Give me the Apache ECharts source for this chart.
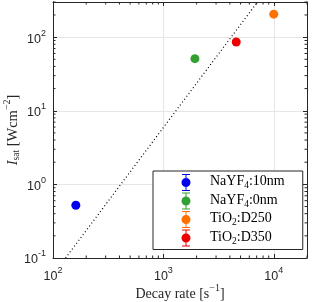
<!DOCTYPE html>
<html>
<head>
<meta charset="utf-8">
<script src="https://cdn.jsdelivr.net/npm/echarts@6/dist/echarts.min.js"></script>
<style>html,body{margin:0;padding:0;background:#fff}#c{width:312px;height:302px}</style>
</head>
<body>
<div id="c"></div>
<script>
// ---- data ----
const seriesNames = ['NaYF4:10nm', 'NaYF4:0nm', 'TiO2:D250', 'TiO2:D350'];
const decayRate = [161, 1930, 10000, 4570];      // s^-1
const Isat = [0.52, 51, 205, 86];                 // W cm^-2
const fitX = [130, 7000];
const fitY = [0.1, 290];
const xMinor = [200,300,400,500,600,700,800,900,2000,3000,4000,5000,6000,7000,8000,9000,20000];
const yMinor = [0.2,0.3,0.4,0.5,0.6,0.7,0.8,0.9,2,3,4,5,6,7,8,9,20,30,40,50,60,70,80,90,200,300];
const xRange = [100, 20000];
const yRange = [0.1, 300];

const colors = ['#0000ee', '#33a033', '#ff7000', '#ee0000'];
const legendRich = {
  'NaYF4:10nm': '{n|NaYF}{sb|4}{n|:10nm}',
  'NaYF4:0nm': '{n|NaYF}{sb|4}{n|:0nm}',
  'TiO2:D250': '{n|TiO}{sb|2}{n|:D250}',
  'TiO2:D350': '{n|TiO}{sb|2}{n|:D350}'
};

const axisColor = '#262626';
function fmt(v) {
  const l = Math.log10(v), e = Math.round(l);
  if (Math.abs(l - e) > 1e-6) return '';
  return '{b|10}{s|' + e + '}';
}
const tickRich = {
  b: {fontSize: 12.5, fontFamily: 'Liberation Sans', color: axisColor, padding: [4, 0, 0, 0], verticalAlign: 'bottom'},
  s: {fontSize: 9, fontFamily: 'Liberation Sans', color: axisColor, verticalAlign: 'top'}
};
// error-bar + marker legend glyph; corner points only set the glyph's box
const errIcon = 'path://M0,0L0,0Z M52,17L52,17Z ' +
  'M29,0H37V1H33.5V4H32.5V1H29Z M33,4A4.5,4.5,0,1,1,32.99,4Z M32.5,13H33.5V16H37V17H29V16H32.5Z';

const chart = echarts.init(document.getElementById('c'));
const series = seriesNames.map((n, i) => ({
  name: n, type: 'scatter', xAxisIndex: 0, yAxisIndex: 0,
  data: [[decayRate[i], Isat[i]]], symbol: 'circle', symbolSize: 9,
  itemStyle: {color: colors[i], opacity: 1}, z: 5
}));
series.push({
  type: 'line', data: fitX.map((x, i) => [x, fitY[i]]), symbol: 'none',
  lineStyle: {color: '#000', width: 1.2, type: [1, 2.6]}, z: 3, silent: true
});
series.push({
  type: 'custom', silent: true, z: 4,
  data: xMinor.map(v => [v]),
  renderItem: function (params, api) {
    const b = api.coord([api.value(0), yRange[0]]);
    const t = api.coord([api.value(0), yRange[1]]);
    return {type: 'group', children: [
      {type: 'line', shape: {x1: b[0], y1: b[1], x2: b[0], y2: b[1] - 2.5}, style: {stroke: axisColor, lineWidth: 1}},
      {type: 'line', shape: {x1: t[0], y1: t[1], x2: t[0], y2: t[1] + 2.5}, style: {stroke: axisColor, lineWidth: 1}}
    ]};
  }
});
series.push({
  type: 'custom', silent: true, z: 4,
  data: yMinor.map(v => [xRange[0], v]),
  renderItem: function (params, api) {
    const l = api.coord([xRange[0], api.value(1)]);
    const r = api.coord([xRange[1], api.value(1)]);
    return {type: 'group', children: [
      {type: 'line', shape: {x1: l[0], y1: l[1], x2: l[0] + 2.5, y2: l[1]}, style: {stroke: axisColor, lineWidth: 1}},
      {type: 'line', shape: {x1: r[0], y1: r[1], x2: r[0] - 2.5, y2: r[1]}, style: {stroke: axisColor, lineWidth: 1}}
    ]};
  }
});

const baseX = {
  type: 'log', logBase: 10, min: xRange[0], max: xRange[1],
  axisLine: {show: true, onZero: false, lineStyle: {color: axisColor, width: 1}},
  axisTick: {show: true, inside: true, length: 4, lineStyle: {color: axisColor}},
  minorTick: {show: false}
};
const baseY = {
  type: 'log', logBase: 10, min: yRange[0], max: yRange[1],
  axisLine: {show: true, onZero: false, lineStyle: {color: axisColor, width: 1}},
  axisTick: {show: true, inside: true, length: 4, lineStyle: {color: axisColor}},
  minorTick: {show: false}
};

chart.setOption({
  animation: false,
  backgroundColor: '#fff',
  grid: {left: 53, right: 5, top: 2, bottom: 44, containLabel: false, outerBoundsMode: 'none'},
  xAxis: [
    Object.assign({}, baseX, {
      position: 'bottom',
      splitLine: {show: true, lineStyle: {color: '#e6e6e6', width: 1}},
      axisLabel: {formatter: fmt, rich: tickRich, margin: 8, showMinLabel: true, showMaxLabel: true, hideOverlap: false},
      name: '{n|Decay rate [s}{s|−1}{n|]}', nameLocation: 'middle', nameGap: 25, nameMoveOverlap: false,
      nameTextStyle: {rich: {
        n: {fontSize: 14, fontFamily: 'Liberation Serif', color: axisColor, padding: [4, 0, 0, 0], verticalAlign: 'bottom'},
        s: {fontSize: 10, fontFamily: 'Liberation Serif', color: axisColor, verticalAlign: 'top'}
      }}
    }),
    Object.assign({}, baseX, {position: 'top', splitLine: {show: false}, axisLabel: {show: false}})
  ],
  yAxis: [
    Object.assign({}, baseY, {
      position: 'left',
      splitLine: {show: true, lineStyle: {color: '#e6e6e6', width: 1}},
      axisLabel: {formatter: fmt, rich: tickRich, margin: 7, hideOverlap: false},
      name: '{i|I}{sb|sat}{n| [Wcm}{s|−2}{n|]}', nameLocation: 'middle', nameGap: 32, nameRotate: 90, nameMoveOverlap: false,
      nameTextStyle: {rich: {
        i: {fontSize: 14.5, fontFamily: 'Liberation Serif', fontStyle: 'italic', color: axisColor, padding: [4, 0, 0, 0], verticalAlign: 'bottom'},
        n: {fontSize: 14.5, fontFamily: 'Liberation Serif', color: axisColor, padding: [4, 0, 0, 0], verticalAlign: 'bottom'},
        sb: {fontSize: 9.5, fontFamily: 'Liberation Serif', color: axisColor, verticalAlign: 'bottom'},
        s: {fontSize: 10, fontFamily: 'Liberation Serif', color: axisColor, verticalAlign: 'top'}
      }}
    }),
    Object.assign({}, baseY, {position: 'right', splitLine: {show: false}, axisLabel: {show: false}})
  ],
  legend: {
    data: seriesNames, orient: 'vertical', left: 153, top: 171,
    padding: [3, 18, 3, 0], itemGap: 1.5, itemWidth: 52, itemHeight: 17,
    icon: errIcon, symbolKeepAspect: false,
    backgroundColor: '#fff', borderColor: axisColor, borderWidth: 1, borderRadius: 0,
    selectedMode: false,
    formatter: n => legendRich[n],
    textStyle: {rich: {
      n: {fontSize: 14, fontFamily: 'Liberation Serif', color: '#000', verticalAlign: 'top'},
      sb: {fontSize: 9.5, fontFamily: 'Liberation Serif', color: '#000', verticalAlign: 'bottom', padding: [6, 0, 0, 0]}
    }}
  },
  series: series
});
</script>
</body>
</html>
